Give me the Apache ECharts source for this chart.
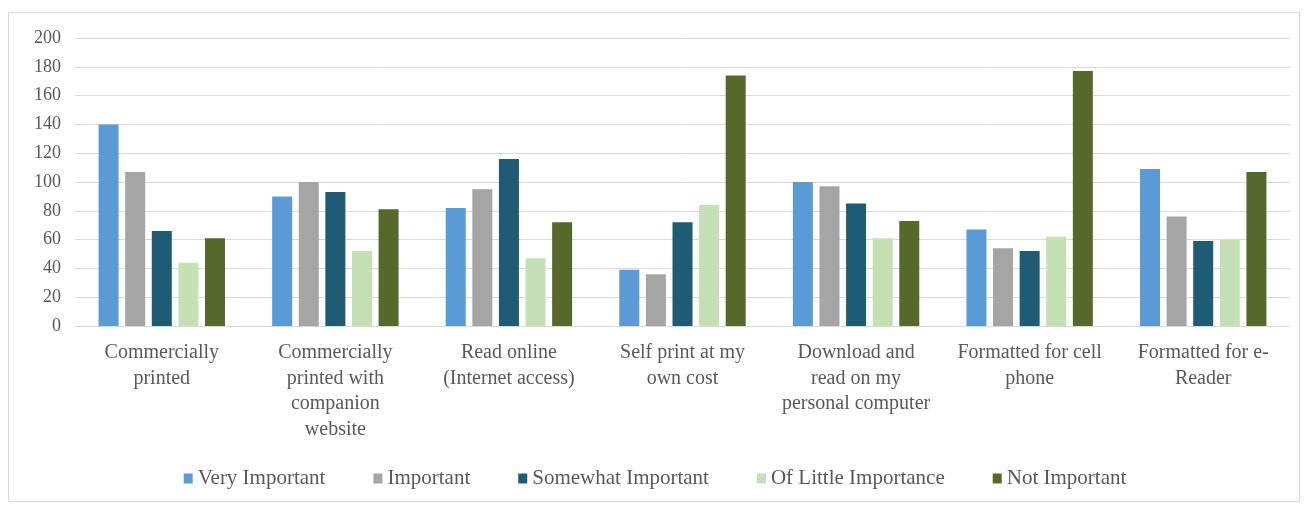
<!DOCTYPE html>
<html>
<head>
<meta charset="utf-8">
<script src="https://cdn.jsdelivr.net/npm/echarts@6/dist/echarts.min.js"></script>
<style>
    html, body { margin: 0; padding: 0; background: #fff; }
    .frame {
        position: absolute;
        left: 8px;
        top: 12px;
        width: 1292px;
        height: 490px;
        border: 1px solid #d9d9d9;
        box-sizing: border-box;
    }
    .charts { width: 1310px; height: 506px; }
</style>
</head>
<body>
<div class="frame"></div>
<div id="chart" class="charts"></div>
<script>
// categories (line breaks as in the picture)
const categories = [
    "Commercially\nprinted",
    "Commercially\nprinted with\ncompanion\nwebsite",
    "Read online\n(Internet access)",
    "Self print at my\nown cost",
    "Download and\nread on my\npersonal computer",
    "Formatted for cell\nphone",
    "Formatted for e-\nReader",
];
const seriesNames = ["Very Important", "Important", "Somewhat Important", "Of Little Importance", "Not Important"];
const veryImportant = [140, 90, 82, 39, 100, 67, 109];
const important = [107, 100, 95, 36, 97, 54, 76];
const somewhatImportant = [66, 93, 116, 72, 85, 52, 59];
const littleImportance = [44, 52, 47, 84, 61, 62, 60];
const notImportant = [61, 81, 72, 174, 73, 177, 107];
const yTicks = [0, 200, 20];

const colors = ["#5b9bd5", "#a5a5a5", "#1f5b74", "#c5e0b4", "#56692a"];
const values = [veryImportant, important, somewhatImportant, littleImportance, notImportant];

const chart = echarts.init(document.getElementById("chart"));
const font = "'Liberation Serif', 'DejaVu Serif', serif";

const option = {
    animation: false,
    color: colors,
    grid: {
        left: 75,
        right: 20,
        top: 38,
        bottom: 180,
    },
    legend: {
        top: 463,
        left: "center",
        itemWidth: 9,
        itemHeight: 10,
        itemGap: 48,
        icon: "rect",
        textStyle: {
            color: "#595959",
            fontFamily: font,
            fontSize: 21,
        },
        data: seriesNames,
    },
    xAxis: {
        type: "category",
        data: categories,
        axisTick: { show: false },
        axisLine: {
            show: true,
            lineStyle: { color: "#d9d9d9" },
        },
        axisLabel: {
            color: "#595959",
            fontFamily: font,
            fontSize: 20,
            lineHeight: 25.5,
            margin: 14,
            interval: 0,
        },
    },
    yAxis: {
        type: "value",
        min: yTicks[0],
        max: yTicks[1],
        interval: yTicks[2],
        axisLine: { show: false },
        axisTick: { show: false },
        splitLine: {
            lineStyle: { color: "#d9d9d9" },
        },
        axisLabel: {
            color: "#595959",
            fontFamily: font,
            fontSize: 18,
            margin: 14,
        },
    },
    series: seriesNames.map(function (name, i) {
        return {
            name: name,
            type: "bar",
            barWidth: 20,
            barGap: "33%",
            data: values[i],
        };
    }),
};
chart.setOption(option);
</script>
</body>
</html>
